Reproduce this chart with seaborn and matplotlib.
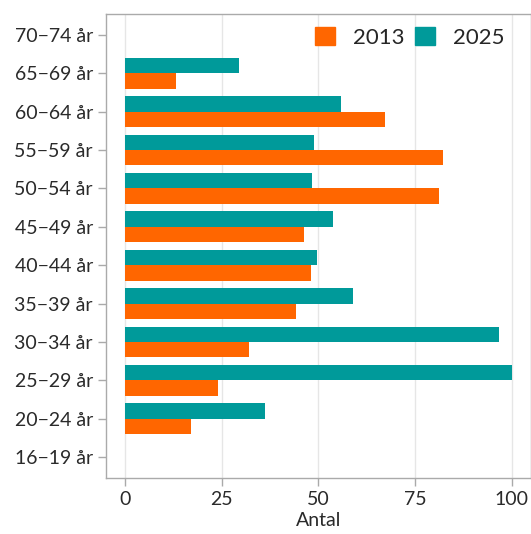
import matplotlib
matplotlib.use('Agg')
import matplotlib.pyplot as plt
import matplotlib.patches as mpatches
import pandas as pd
import seaborn as sns

# age groups, top to bottom as in the chart
groups = ['70−74 år', '65−69 år', '60−64 år', '55−59 år', '50−54 år', '45−49 år',
          '40−44 år', '35−39 år', '30−34 år', '25−29 år', '20−24 år', '16−19 år']
vals_2025 = [0, 29.5, 55.8, 48.8, 48.3, 53.7, 49.6, 58.9, 96.6, 100, 36.2, 0]
vals_2013 = [0, 13.2, 67.2, 82.2, 81.1, 46.3, 48.1, 44.2, 32, 24, 17, 0]
years = ['2025', '2013']
colors = {'2013': '#ff6600', '2025': '#009a9a'}

df = pd.DataFrame({
    'grupp': groups * 2,
    'Antal': vals_2025 + vals_2013,
    'ar': ['2025'] * len(groups) + ['2013'] * len(groups),
})

sns.set_style('white')
plt.rcParams['font.family'] = ['Lato', 'DejaVu Sans']

fig = plt.figure(figsize=(5.31, 5.34), dpi=100)
ax = fig.add_axes([106 / 531, 56 / 534, 425 / 531, 464 / 534])
sns.barplot(data=df, x='Antal', y='grupp', hue='ar', order=groups, hue_order=years,
            palette=colors, width=0.8, saturation=1, ax=ax, legend=False,
            linewidth=0, zorder=3)

ax.set_xlim(-4.9, 105)
ax.set_ylim(11.55, -0.55)
ax.set_xticks([0, 25, 50, 75, 100])
ax.grid(axis='x', color='#e6e6e6', linewidth=1, zorder=0)
ax.set_axisbelow(True)
for s in ax.spines.values():
    s.set_color('#aaaaaa')
    s.set_linewidth(1)
ax.tick_params(axis='both', length=6, width=1, color='#aaaaaa', labelsize=14,
               labelcolor='#2a2a2a', direction='out', bottom=True, left=True)
ax.set_ylabel('')
ax.set_xlabel('Antal', fontsize=14, color='#2a2a2a', labelpad=3)

handles = [mpatches.Patch(color=colors[y], label=y) for y in ['2013', '2025']]
ax.legend(handles=handles, loc='upper right', ncol=2, frameon=False, fontsize=16,
          handlelength=0.9, handleheight=0.9, columnspacing=0.5, handletextpad=0.8,
          bbox_to_anchor=(0.985, 1.015))

fig.savefig('out.png', dpi=100)
